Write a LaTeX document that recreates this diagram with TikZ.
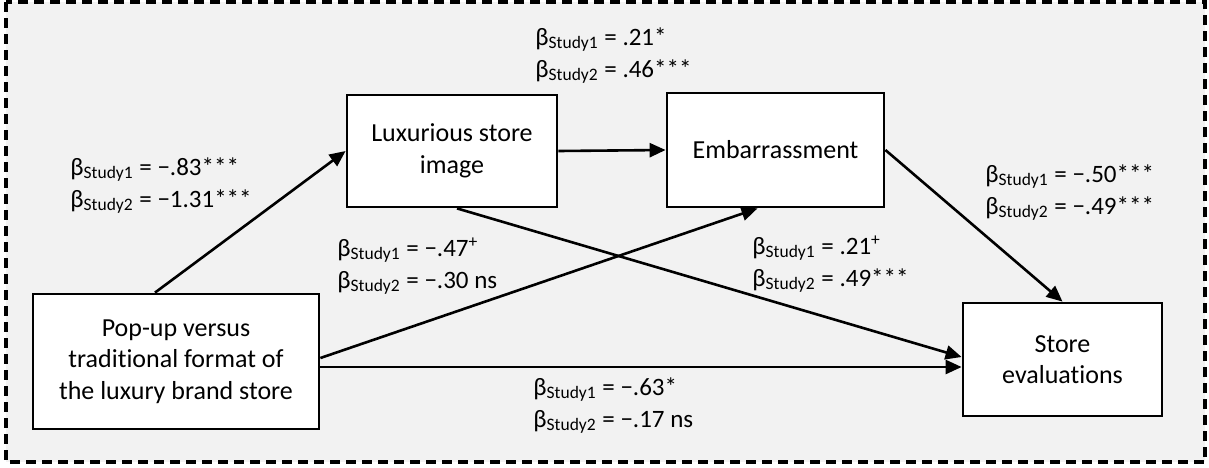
\documentclass[tikz,border=0pt]{standalone}
\usepackage{fontspec}
\setmainfont{Carlito}[Ligatures=NoCommon]
\usetikzlibrary{arrows.meta, positioning}

\definecolor{panelgray}{HTML}{F2F2F2}

\tikzset{
  box/.style={draw, line width=1.4pt, fill=white, align=center, inner sep=0pt,
    font=\fontsize{13}{15.75}\selectfont},
  coef/.style={anchor=base west, align=left, inner sep=0pt,
    font=\fontsize{12.5}{16}\selectfont},
  path arrow/.style={line width=1.3pt, -{Triangle[length=8pt, width=7pt]}},
}
\newcommand{\bS}[1]{β\textsubscript{Study#1}}

\begin{document}
\begin{tikzpicture}[x=0.5pt, y=-0.5pt]
        \useasboundingbox (0,0) rectangle (1209,467);

        % Frame
        \draw[fill=panelgray, line width=1.6pt, dash pattern=on 5pt off 3pt] (6,2) rectangle (1205,462);

        % Variables
        \node[box, minimum width=143pt, minimum height=67.5pt] (popup) at (176,361.5) {Pop-up versus\\traditional format of\\the luxury brand store};
        \node[box, minimum width=105pt, minimum height=56pt] (image) at (452,151) {Luxurious store\\image};
        \node[box, minimum width=108.5pt, minimum height=57pt] (embarr) at (775.5,150) {Embarrassment};
        \node[box, minimum width=99.5pt, minimum height=56.5pt] (evals) at (1062.5,359.5) {Store\\evaluations};

        % Paths
        \draw[path arrow] ([xshift=-10.5pt]popup.north) -- (image.west);
        \draw[path arrow] (image.east) -- (embarr.west);
        \draw[path arrow] ([yshift=1.75pt]popup.east) -- ([xshift=-9pt]embarr.south);
        \draw[path arrow] ([yshift=-2.75pt]popup.east) coordinate (direct) -- (direct -| evals.west);
        \draw[path arrow] ([xshift=2.5pt]image.south) -- ([yshift=1.25pt]evals.west);
        \draw[path arrow] (embarr.east) -- (evals.north);

        % Coefficients (anchored at the baseline of the second line)
        \node[coef] (c-pi) at (70,207) {\bS{1} = −.83***\\\bS{2} = −1.31***};
        \node[coef] (c-ie) at (535,77) {\bS{1} = .21*\\\bS{2} = .46***};
        \node[coef] (c-pe) at (337,288) {\bS{1} = −.47\textsuperscript{+}\\\bS{2} = −.30 ns};
        \node[coef] (c-is) at (752,286) {\bS{1} = .21\textsuperscript{+}\\\bS{2} = .49***};
        \node[coef] (c-es) at (985,214) {\bS{1} = −.50***\\\bS{2} = −.49***};
        \node[coef] (c-ps) at (533,427) {\bS{1} = −.63*\\\bS{2} = −.17 ns};
    \end{tikzpicture}
\end{document}
